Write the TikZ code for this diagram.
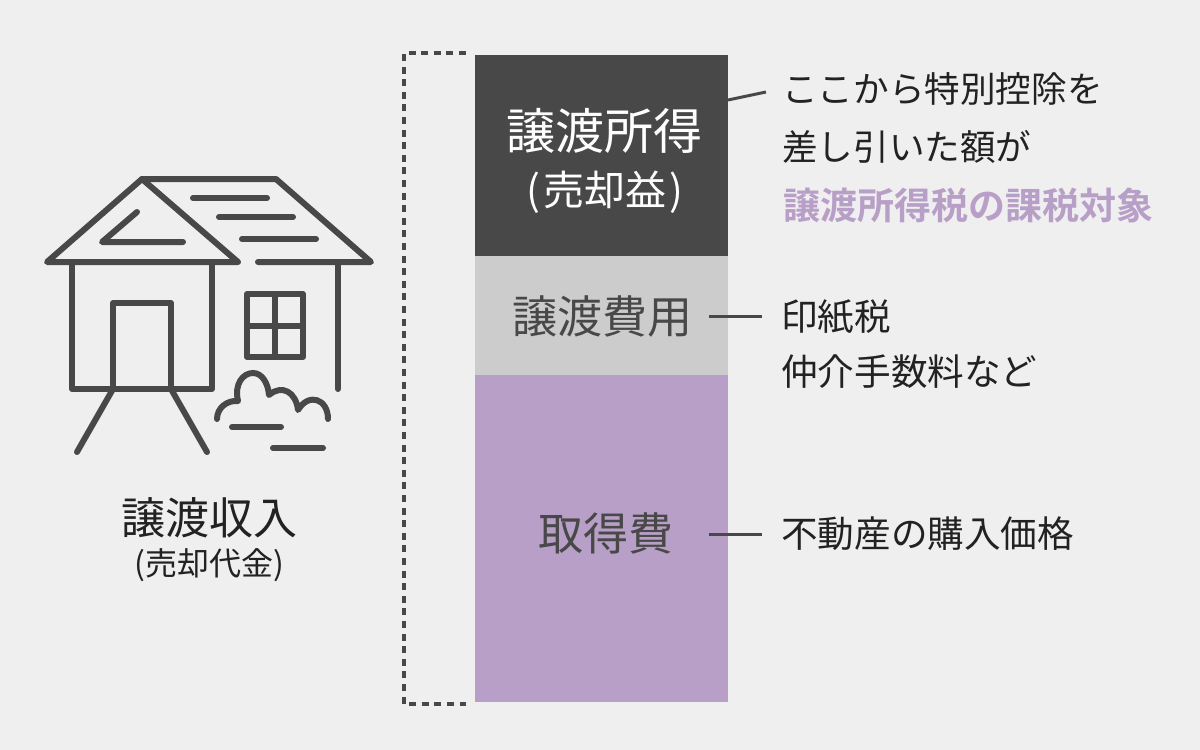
\documentclass[tikz,border=0pt]{standalone}
\usepackage{fontspec}
\setmainfont{Noto Sans CJK JP}[BoldFont={Noto Sans CJK JP Bold}]
\definecolor{bgc}{HTML}{EFEFEF}
\definecolor{darkc}{HTML}{484848}
\definecolor{grayc}{HTML}{CCCCCC}
\definecolor{purplec}{HTML}{B89FC7}
\definecolor{inkc}{HTML}{222222}
\newcommand{\fs}[1]{\fontsize{#1pt}{#1pt}\selectfont}
\tikzset{
  houseline/.style={draw=darkc,line width=6pt,line cap=round,line join=round},
  barbox/.style={anchor=north west,inner sep=0pt,outer sep=0pt,minimum width=253pt},
  leader/.style={draw=darkc,line width=3pt},
  note/.style={anchor=west,inner sep=0pt,text=inkc,align=left}
}
\begin{document}
\begin{tikzpicture}[x=1pt,y=-1pt]
\fill[bgc] (0,0) rectangle (1200,750);
\useasboundingbox (0,0) rectangle (1200,750);
% house
\draw[houseline] (238,262) -- (47,262) -- (142,179) -- (238,262);
\draw[houseline] (142,179) -- (276,179) -- (371,262) -- (258,262);
\draw[houseline] (72,262) -- (72,389) -- (212,389) -- (212,262);
\draw[houseline] (113,389) -- (113,303) -- (171,303) -- (171,389);
\draw[houseline] (113,389) -- (77,452);
\draw[houseline] (171,389) -- (207,452);
\draw[houseline] (193,198) -- (267,198);
\draw[houseline] (219,217) -- (293,217);
\draw[houseline] (242,239) -- (316,239);
\draw[houseline] (137,212) -- (102,242) -- (183,242);
\draw[houseline] (338,262) -- (338,389);
\draw[houseline] (247,294) rectangle (303,357);
\draw[houseline] (275,294) -- (275,357);
\draw[houseline] (247,326) -- (303,326);
\draw[houseline] (217,419) .. controls (217,408) and (227,400) .. (238,401)
  .. controls (234,384) and (243,373) .. (253,373)
  .. controls (262,373) and (268,383) .. (269,395)
  .. controls (282,384) and (296,392) .. (298,410)
  .. controls (309,392) and (328,399) .. (328,419);
\draw[houseline] (232,427) -- (281,427);
\draw[houseline] (273,448) -- (323,448);
% bracket
\coordinate (brA) at (466,53);
\coordinate (brB) at (404,53);
\coordinate (brC) at (404,704);
\coordinate (brD) at (466,704);
\draw[darkc,line width=3.2pt,dash pattern=on 7pt off 5.6pt] (brA) -- (brB) -- (brC) -- (brD);
% bars
\node[barbox,fill=darkc,minimum height=201pt] (gain) at (475,55) {};
\node[barbox,fill=grayc,minimum height=119pt] (cost) at (475,256) {};
\node[barbox,fill=purplec,minimum height=327pt] (buy) at (475,375) {};
\node[inner sep=0pt,text=white,font=\fs{49}] (t1) at (604.5,131) {譲渡所得};
\node[inner sep=0pt,text=white,font=\fs{41}] (t2) at (605,192) {(\hspace{3pt}売却益\hspace{3pt})};
\node[inner sep=0pt,text=darkc,font=\fs{45}] (t3) at (602.5,317) {譲渡費用};
\node[inner sep=0pt,text=darkc,font=\fs{45}] (t4) at (605.5,533) {取得費};
% left label
\node[inner sep=0pt,text=inkc,font=\fs{44}] (t5) at (209.5,518) {譲渡収入};
\node[inner sep=0pt,text=inkc,font=\fs{32}] (t6) at (209,565) {(売却代金)};
% notes
\node[note,font=\fs{35.6}] (n1) at (782,89) {ここから特別控除を};
\node[note,font=\fs{35.6}] (n2) at (782,147) {差し引いた額が};
\node[note,font=\fs{37}\bfseries,text=purplec] (n3) at (783,205) {譲渡所得税の課税対象};
\node[note,font=\fs{36.6}] (n4) at (781,317) {印紙税};
\node[note,font=\fs{36.6}] (n5) at (781,372) {仲介手数料など};
\node[note,font=\fs{36.6}] (n6) at (781,534) {不動産の購入価格};
% leaders
\coordinate (l1a) at (728,100);
\coordinate (l1b) at (766,92);
\coordinate (l2a) at (709,316);
\coordinate (l2b) at (762,316);
\coordinate (l3a) at (709,534);
\coordinate (l3b) at (762,534);
\draw[leader] (l1a) -- (l1b);
\draw[leader] (l2a) -- (l2b);
\draw[leader] (l3a) -- (l3b);
\end{tikzpicture}
\end{document}
